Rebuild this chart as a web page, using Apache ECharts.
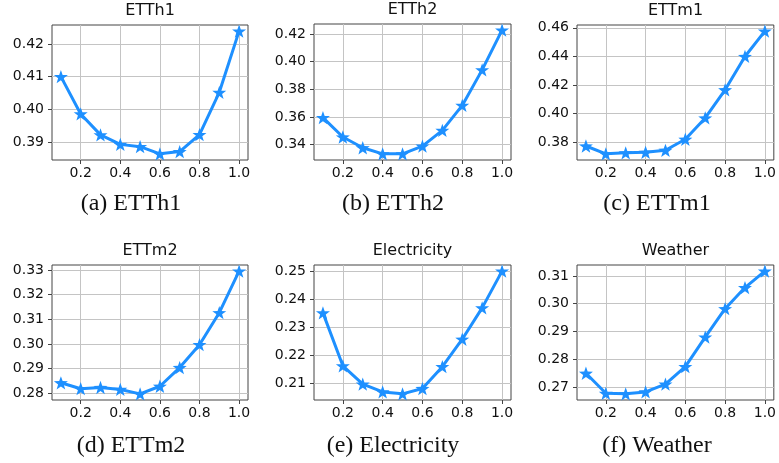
<!DOCTYPE html>
<html>
<head>
<meta charset="utf-8">
<script src="https://cdn.jsdelivr.net/npm/echarts@6/dist/echarts.min.js"></script>
<style>
  html, body { margin: 0; background: #fff; }
  #chart { width: 779px; height: 463px; }
</style>
</head>
<body>
<div id="chart"></div>
<script>
// ratio on the x axis
const ratios = [0.1, 0.2, 0.3, 0.4, 0.5, 0.6, 0.7, 0.8, 0.9, 1.0];
const xTicks = [0.2, 0.4, 0.6, 0.8, 1.0];

// MSE per dataset
const etth1 = [0.4100, 0.3986, 0.3922, 0.3893, 0.3886, 0.3864, 0.3871, 0.3923, 0.4052, 0.4239];
const etth2 = [0.3595, 0.3454, 0.3376, 0.3332, 0.3332, 0.3388, 0.3502, 0.3683, 0.3941, 0.4229];
const ettm1 = [0.3774, 0.3719, 0.3726, 0.3730, 0.3744, 0.3821, 0.3970, 0.4167, 0.4400, 0.4577];
const ettm2 = [0.2842, 0.2818, 0.2823, 0.2815, 0.2797, 0.2828, 0.2904, 0.2997, 0.3127, 0.3296];
const electricity = [0.2352, 0.2163, 0.2098, 0.2070, 0.2063, 0.2082, 0.2160, 0.2258, 0.2370, 0.2501];
const weather = [0.2750, 0.2678, 0.2676, 0.2683, 0.2711, 0.2774, 0.2880, 0.2982, 0.3058, 0.3117];

// y tick labels
const etth1Ticks = [0.39, 0.40, 0.41, 0.42];
const etth2Ticks = [0.34, 0.36, 0.38, 0.40, 0.42];
const ettm1Ticks = [0.38, 0.40, 0.42, 0.44, 0.46];
const ettm2Ticks = [0.28, 0.29, 0.30, 0.31, 0.32, 0.33];
const electricityTicks = [0.21, 0.22, 0.23, 0.24, 0.25];
const weatherTicks = [0.27, 0.28, 0.29, 0.30, 0.31];

const titles = ['ETTh1', 'ETTh2', 'ETTm1', 'ETTm2', 'Electricity', 'Weather'];
const captions = ['(a) ETTh1', '(b) ETTh2', '(c) ETTm1', '(d) ETTm2', '(e) Electricity', '(f) Weather'];

const panels = [
  { data: etth1, ticks: etth1Ticks, left: 52, top: 25, width: 196, height: 135, cap: 131, capTop: 192 },
  { data: etth2, ticks: etth2Ticks, left: 314, top: 24, width: 197, height: 136, cap: 393, capTop: 192 },
  { data: ettm1, ticks: ettm1Ticks, left: 577, top: 25, width: 197, height: 135, cap: 657, capTop: 192 },
  { data: ettm2, ticks: ettm2Ticks, left: 52, top: 265, width: 196, height: 135, cap: 131, capTop: 434 },
  { data: electricity, ticks: electricityTicks, left: 314, top: 265, width: 197, height: 135, cap: 393, capTop: 434 },
  { data: weather, ticks: weatherTicks, left: 577, top: 265, width: 197, height: 135, cap: 657, capTop: 434 }
];

// 5-point star marker like matplotlib '*'
function starPath() {
  let d = '';
  for (let i = 0; i < 10; i++) {
    const r = i % 2 ? 0.4 : 1;
    const a = -Math.PI / 2 + i * Math.PI / 5;
    d += (i ? 'L' : 'M') + (r * Math.cos(a)).toFixed(4) + ' ' + (r * Math.sin(a)).toFixed(4) + ' ';
  }
  return 'path://' + d + 'Z';
}
const star = starPath();

const sans = 'DejaVu Sans';
const grid = [], xAxis = [], yAxis = [], series = [], title = [];

panels.forEach((p, i) => {
  const lo = Math.min(...p.data), hi = Math.max(...p.data);
  const pad = (hi - lo) * 0.05;
  grid.push({
    left: p.left, top: p.top, width: p.width, height: p.height,
    show: true, borderColor: '#444', borderWidth: 1
  });
  xAxis.push({
    type: 'value', gridIndex: i, min: 0.055, max: 1.045,
    axisLine: { show: false },
    axisTick: { show: true, length: 4, lineStyle: { color: '#444' }, customValues: xTicks },
    axisLabel: { customValues: xTicks, formatter: v => v.toFixed(1), fontFamily: sans, fontSize: 14, color: '#111', margin: 6 },
    splitLine: { show: true, lineStyle: { color: '#c4c4c4', width: 1 } }
  });
  yAxis.push({
    type: 'value', gridIndex: i, min: lo - pad, max: hi + pad,
    axisLine: { show: false },
    axisTick: { show: true, length: 4, lineStyle: { color: '#444' }, customValues: p.ticks },
    axisLabel: { customValues: p.ticks, formatter: v => v.toFixed(2), fontFamily: sans, fontSize: 14, color: '#111', margin: 8 },
    splitLine: { show: true, lineStyle: { color: '#c4c4c4', width: 1 } }
  });
  series.push({
    type: 'line', xAxisIndex: i, yAxisIndex: i,
    data: ratios.map((r, k) => [r, p.data[k]]),
    symbol: star, symbolSize: 14, symbolKeepAspect: true,
    showAllSymbol: true,
    lineStyle: { color: '#1e90ff', width: 3 },
    itemStyle: { color: '#1e90ff' },
    animation: false
  });
  title.push({
    text: titles[i], left: p.left + p.width / 2, top: p.top - 22, textAlign: 'center', padding: 0,
    textStyle: { fontFamily: sans, fontSize: 16, fontWeight: 'normal', color: '#111' }
  });
  title.push({
    text: captions[i], left: p.cap, top: p.capTop, textAlign: 'center', padding: 0,
    textStyle: { fontFamily: 'Liberation Serif', fontSize: 24, fontWeight: 'normal', color: '#111' }
  });
});

const chart = echarts.init(document.getElementById('chart'));
chart.setOption({ animation: false, title, grid, xAxis, yAxis, series });
</script>
</body>
</html>
